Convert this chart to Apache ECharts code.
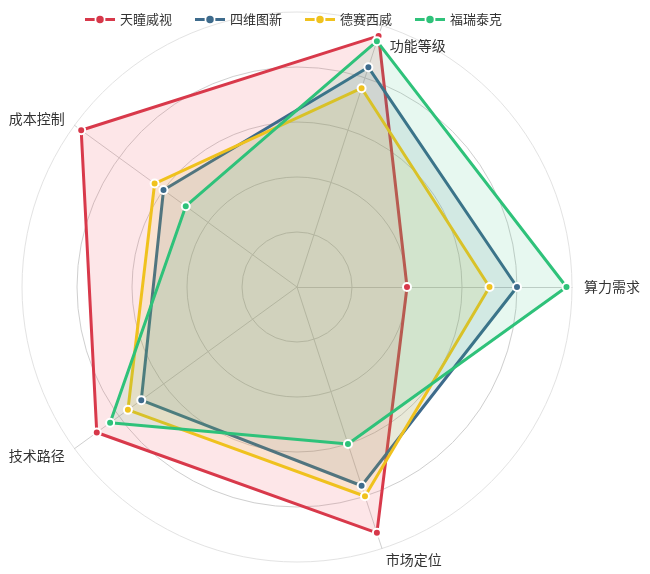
<!DOCTYPE html>
<html>
<head>
<meta charset="utf-8">
<script src="https://cdn.jsdelivr.net/npm/echarts@6/dist/echarts.min.js"></script>
<style>
  html, body { margin: 0; padding: 0; background: #fff; }
  #main { width: 650px; height: 574px; }
</style>
</head>
<body>
<div id="main"></div>
<script>
// 雷达图维度与各厂商得分
const indicators = ['算力需求', '功能等级', '成本控制', '技术路径', '市场定位'];
const companies = ['天瞳威视', '四维图新', '德赛西威', '福瑞泰克'];

const tianTong = [40, 96, 97, 90, 94];
const siWei = [80, 84, 60, 70, 76];
const deSai = [70, 76, 64, 76, 80];
const fuRui = [98, 94, 50, 84, 60];
const scores = [tianTong, siWei, deSai, fuRui];

const colors = ['#d7384a', '#3e6b8c', '#f0c21e', '#2fc27a'];
const areaColors = ['rgba(240,80,95,0.2)', 'rgba(62,107,140,0.17)', 'rgba(240,194,30,0.17)', 'rgba(47,194,122,0.16)'];

// 图例图标：线段 + 圆点
const legendIcon = 'path://M0,2.5 L9,2.5 L9,5.5 L0,5.5 Z M19,2.5 L28,2.5 L28,5.5 L19,5.5 Z ' +
  'M10.5,4 A3.5,3.5 0 1,1 17.5,4 A3.5,3.5 0 1,1 10.5,4 Z M14,0 L14,0.01 Z M14,8 L14,7.99 Z';

const chart = echarts.init(document.getElementById('main'));

const option = {
  backgroundColor: '#ffffff',
  color: colors,
  textStyle: { fontFamily: 'Noto Sans CJK SC' },
  legend: {
    data: companies.map(function (name) { return { name: name, icon: legendIcon }; }),
    left: 80,
    top: 8,
    itemWidth: 30,
    itemHeight: 9,
    itemGap: 23,
    itemStyle: { borderWidth: 0 },
    textStyle: { fontSize: 13, color: '#333' }
  },
  radar: {
    center: [297, 287],
    radius: 275,
    startAngle: 0,
    shape: 'circle',
    splitNumber: 5,
    indicator: indicators.map(function (name) {
      return { name: name, max: 100 };
    }),
    axisName: {
      color: '#333',
      fontSize: 14,
      // 功能等级标签避开图例，向下偏移
      formatter: function (name) {
        return name === '功能等级' ? '{low|' + name + '}' : name;
      },
      rich: {
        low: { fontSize: 14, color: '#333', padding: [0, 0, -64, 4] }
      }
    },
    nameGap: 12,
    splitArea: { show: false },
    splitLine: {
      lineStyle: { color: ['#cfcfcf', '#cfcfcf', '#cfcfcf', '#cfcfcf', '#cfcfcf', '#e3e3e3'], width: 1 }
    },
    axisLine: { lineStyle: { color: '#cfcfcf' } }
  },
  series: [{
    type: 'radar',
    symbol: 'circle',
    symbolSize: 8,
    data: companies.map(function (name, i) {
      return {
        name: name,
        value: scores[i],
        lineStyle: { width: 3, color: colors[i] },
        itemStyle: { color: colors[i], borderColor: '#fff', borderWidth: 2 },
        areaStyle: { color: areaColors[i] }
      };
    })
  }]
};

chart.setOption(option);
</script>
</body>
</html>
